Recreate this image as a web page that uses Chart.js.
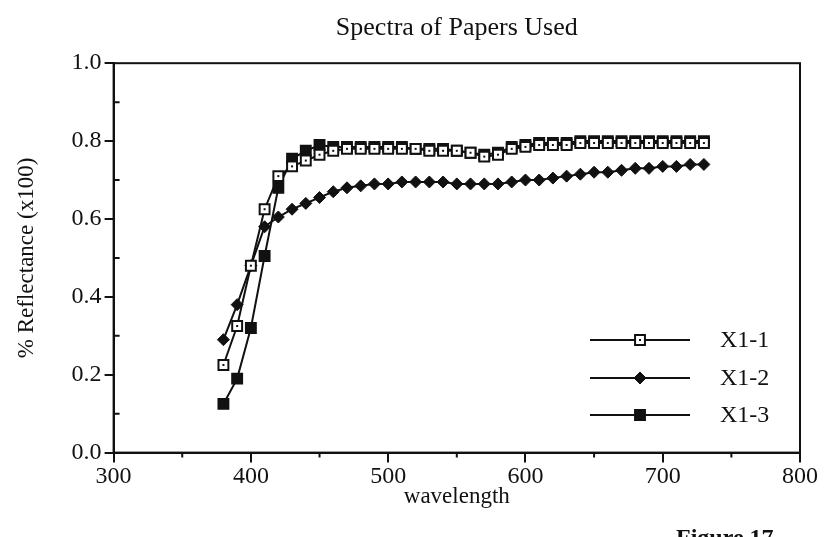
<!DOCTYPE html>
<html>
<head>
<meta charset="utf-8">
<script src="https://cdn.jsdelivr.net/npm/chart.js@4/dist/chart.umd.min.js"></script>
<style>
html,body{margin:0;padding:0;background:#fff;}
#wrap{width:828px;height:537px;position:relative;}
</style>
</head>
<body>
<div id="wrap"><canvas id="c" width="828" height="537"></canvas></div>
<script>
const wavelengths = [380,390,400,410,420,430,440,450,460,470,480,490,500,510,520,530,540,550,560,570,580,590,600,610,620,630,640,650,660,670,680,690,700,710,720,730];
const seriesNames = ['X1-1','X1-2','X1-3'];
const x11 = [0.225,0.325,0.48,0.625,0.71,0.735,0.75,0.765,0.775,0.78,0.78,0.78,0.78,0.78,0.78,0.775,0.775,0.775,0.77,0.76,0.765,0.78,0.785,0.79,0.79,0.79,0.795,0.795,0.795,0.795,0.795,0.795,0.795,0.795,0.795,0.795];
const x12 = [0.29,0.38,0.48,0.58,0.605,0.625,0.64,0.655,0.67,0.68,0.685,0.69,0.69,0.695,0.695,0.695,0.695,0.69,0.69,0.69,0.69,0.695,0.70,0.70,0.705,0.71,0.715,0.72,0.72,0.725,0.73,0.73,0.735,0.735,0.74,0.74];
const x13 = [0.125,0.19,0.32,0.505,0.68,0.755,0.775,0.79,0.785,0.785,0.785,0.785,0.785,0.785,0.78,0.78,0.78,0.775,0.77,0.765,0.77,0.785,0.79,0.795,0.795,0.795,0.8,0.8,0.8,0.8,0.8,0.8,0.8,0.8,0.8,0.8];
const xTicks = [300,400,500,600,700,800];
const xMinorTicks = [350,450,550,650,750];
const yTicks = [0.0,0.2,0.4,0.6,0.8,1.0];
const yMinorTicks = [0.1,0.3,0.5,0.7,0.9];
const titleText = 'Spectra of Papers Used';
const xTitle = 'wavelength';
const yTitle = '% Reflectance (x100)';
const figureLabel = 'Figure 17';

const SERIF = '"Liberation Serif", "DejaVu Serif", serif';
const toPts = arr => arr.map((v,i) => ({x: wavelengths[i], y: v}));

const styles = [
  {pointStyle:'rect', pointRadius:7, pointBorderWidth:2, pointBackgroundColor:'#fff', pointBorderColor:'#111'},
  {pointStyle:'rectRot', pointRadius:6, pointBorderWidth:1, pointBackgroundColor:'#111', pointBorderColor:'#111'},
  {pointStyle:'rect', pointRadius:7, pointBorderWidth:2, pointBackgroundColor:'#111', pointBorderColor:'#111'}
];
const seriesData = [x11, x12, x13];

const datasets = seriesData.map((d,i) => Object.assign({
  label: seriesNames[i],
  data: toPts(d),
  borderColor: '#111',
  borderWidth: 2,
  fill: false,
  tension: 0
}, styles[i]));

function drawMarker(ctx, st, x, y) {
  ctx.save();
  ctx.lineWidth = st.pointBorderWidth;
  ctx.strokeStyle = st.pointBorderColor;
  ctx.fillStyle = st.pointBackgroundColor;
  ctx.beginPath();
  if (st.pointStyle === 'rect') {
    const s = Math.SQRT1_2 * st.pointRadius;
    ctx.rect(x - s, y - s, 2*s, 2*s);
  } else {
    const r = st.pointRadius;
    ctx.moveTo(x - r, y); ctx.lineTo(x, y - r); ctx.lineTo(x + r, y); ctx.lineTo(x, y + r); ctx.closePath();
  }
  ctx.fill(); ctx.stroke();
  ctx.restore();
}

const framePlugin = {
  id: 'frame',
  beforeDatasetsDraw(chart) {
    const {ctx, chartArea: a, scales} = chart;
    ctx.save();
    ctx.strokeStyle = '#111';
    ctx.lineWidth = 2;
    ctx.strokeRect(a.left, a.top, a.right - a.left, a.bottom - a.top);
    ctx.beginPath();
    xMinorTicks.forEach(v => {
      const px = scales.x.getPixelForValue(v);
      ctx.moveTo(px, a.bottom); ctx.lineTo(px, a.bottom + 5);
    });
    yMinorTicks.forEach(v => {
      const py = scales.y.getPixelForValue(v);
      ctx.moveTo(a.left, py); ctx.lineTo(a.left + 6, py);
    });
    ctx.stroke();
    ctx.restore();
  },
  afterDatasetsDraw(chart) {
    const ctx = chart.ctx;
    const meta = chart.getDatasetMeta(0);
    ctx.save();
    ctx.fillStyle = '#111';
    meta.data.forEach(p => { ctx.fillRect(p.x - 1, p.y - 1, 2, 2); });
    ctx.restore();
  },
  afterDraw(chart) {
    const ctx = chart.ctx;
    ctx.save();
    const x0 = 590, x1 = 690, xm = 640, tx = 720;
    const ys = [340, 378, 415];
    seriesNames.forEach((name, i) => {
      const y = ys[i];
      ctx.strokeStyle = '#111';
      ctx.lineWidth = 2;
      ctx.beginPath(); ctx.moveTo(x0, y); ctx.lineTo(x1, y); ctx.stroke();
      drawMarker(ctx, styles[i], xm, y);
      if (i === 0) { ctx.fillStyle = '#111'; ctx.fillRect(xm - 1, y - 1, 2, 2); }
      ctx.fillStyle = '#111';
      ctx.font = '24px ' + SERIF;
      ctx.textAlign = 'left';
      ctx.textBaseline = 'middle';
      ctx.fillText(name, tx, y + 1);
    });
    ctx.font = 'bold 24px ' + SERIF;
    ctx.textBaseline = 'top';
    ctx.fillText(figureLabel, 676, 527);
    ctx.restore();
  }
};

new Chart(document.getElementById('c'), {
  type: 'line',
  data: { datasets },
  options: {
    responsive: false,
    animation: false,
    devicePixelRatio: 1,
    layout: { padding: { left: 13, right: 28, top: 0, bottom: 26 } },
    plugins: {
      legend: { display: false },
      tooltip: { enabled: false },
      title: {
        display: true,
        fullSize: false,
        text: titleText,
        color: '#111',
        font: { family: SERIF, size: 26, weight: 'normal' },
        padding: { top: 13, bottom: 19 }
      }
    },
    scales: {
      x: {
        type: 'linear',
        min: 300, max: 800,
        afterBuildTicks: s => { s.ticks = xTicks.map(v => ({value: v})); },
        ticks: { color: '#111', font: { family: SERIF, size: 24 }, padding: 0, maxRotation: 0 },
        grid: { drawOnChartArea: false, drawTicks: true, tickLength: 10, color: '#111', lineWidth: 2 },
        border: { display: true, color: '#111', width: 2 },
        title: { display: true, text: xTitle, color: '#111', font: { family: SERIF, size: 23 }, padding: { top: -8, bottom: 0 } }
      },
      y: {
        type: 'linear',
        min: 0, max: 1,
        afterBuildTicks: s => { s.ticks = yTicks.map(v => ({value: v})); },
        ticks: { color: '#111', font: { family: SERIF, size: 24 }, padding: 3, callback: v => Number(v).toFixed(1) },
        grid: { drawOnChartArea: false, drawTicks: true, tickLength: 9, color: '#111', lineWidth: 2 },
        border: { display: true, color: '#111', width: 2 },
        title: { display: true, text: yTitle, color: '#111', font: { family: SERIF, size: 23 }, padding: { top: 0, bottom: 28 } }
      }
    }
  },
  plugins: [framePlugin]
});
</script>
</body>
</html>
